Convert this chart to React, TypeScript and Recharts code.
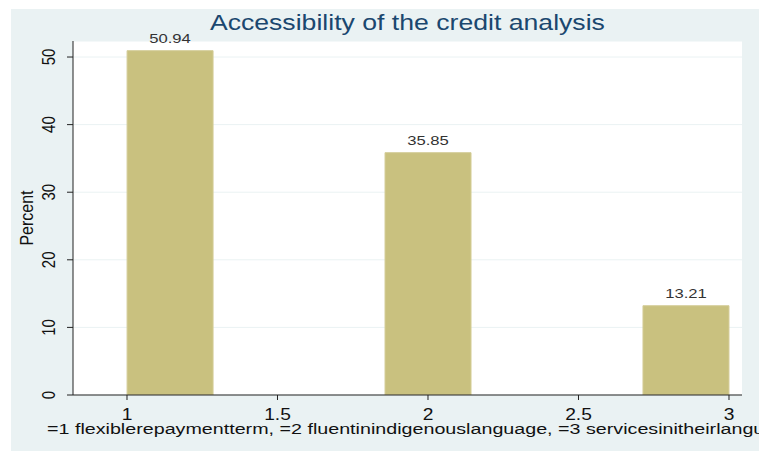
import { Bar, BarChart, CartesianGrid, LabelList, XAxis, YAxis } from 'recharts';

// histogram bins (mid points) and percent per bin
const binMids = [1.143, 2, 2.857];
const percents = [50.94, 35.85, 13.21];
const binWidth = 2 / 7;

const xTicks = [1, 1.5, 2, 2.5, 3];
const yTicks = [0, 10, 20, 30, 40, 50];

const title = 'Accessibility of the credit analysis';
const note = '=1 flexiblerepaymentterm, =2 fluentinindigenouslanguage, =3 servicesinitheirlanguage';

const chartData = binMids.map((mid, i) => ({ mid, pct: percents[i] }));

const W = 759;
const H = 451;
const margin = { top: 41, right: 17, bottom: 16, left: 11 };
const yAxisWidth = 62;
const xDomain: [number, number] = [0.8206, 3.0432];
const plotWidth = W - margin.left - margin.right - yAxisWidth;
const barPx = Math.round((binWidth / (xDomain[1] - xDomain[0])) * plotWidth);

// the reference graph is stretched sideways, so text is widened to match
const stretch = 1.2;
const font = 'Arial, "Liberation Sans", Helvetica, sans-serif';

const XTick = ({ x, payload }: any) => (
    <text
        transform={`translate(${x},420) scale(${stretch},1)`}
        textAnchor="middle"
        fontSize={16}
        fill="#111"
        fontFamily={font}
    >
        {payload.value}
    </text>
);

const YTick = ({ y, payload }: any) => (
    <text
        transform={`translate(55,${y}) scale(${stretch},1) rotate(-90)`}
        textAnchor="middle"
        fontSize={15}
        fill="#111"
        fontFamily={font}
    >
        {payload.value}
    </text>
);

const BarValue = ({ x, y, width, value }: any) => (
    <text
        transform={`translate(${x + width / 2},${y - 8}) scale(1.28,1)`}
        textAnchor="middle"
        fontSize={13}
        fill="#333"
        fontFamily={font}
    >
        {Number(value).toFixed(2)}
    </text>
);

const App = () => {
    return (
        <div
            style={{
                position: 'absolute',
                left: 0,
                top: 0,
                width: W,
                height: H,
                background: '#fff',
                overflow: 'hidden',
            }}
        >
            <div
                style={{
                    position: 'absolute',
                    left: 11,
                    top: 9,
                    width: W - 11,
                    height: H - 9,
                    background: '#eaf2f3',
                }}
            />
            <div
                style={{
                    position: 'absolute',
                    left: 73,
                    width: 669,
                    top: 9,
                    textAlign: 'center',
                    fontFamily: font,
                    fontSize: 22,
                    color: '#1a476f',
                    lineHeight: '28px',
                    transform: 'scaleX(1.21)',
                    transformOrigin: '335px 0',
                }}
            >
                {title}
            </div>
            <div
                style={{
                    position: 'absolute',
                    left: 47,
                    top: 421,
                    whiteSpace: 'nowrap',
                    fontFamily: font,
                    fontSize: 15.5,
                    color: '#111',
                    lineHeight: '16px',
                    transform: 'scaleX(1.27)',
                    transformOrigin: '0 0',
                }}
            >
                {note}
            </div>
            <div style={{ position: 'absolute', left: 0, top: 0 }}>
                <BarChart width={W} height={H} data={chartData} margin={margin}>
                    <CartesianGrid vertical={false} stroke="#eaf2f3" fill="#ffffff" />
                    <XAxis
                        type="number"
                        dataKey="mid"
                        domain={xDomain}
                        allowDataOverflow
                        ticks={xTicks}
                        tick={<XTick />}
                        tickSize={5}
                        tickLine={{ stroke: '#222' }}
                        axisLine={{ stroke: '#222' }}
                        height={40}
                    />
                    <YAxis
                        type="number"
                        domain={[0, 52.37]}
                        allowDataOverflow
                        ticks={yTicks}
                        tick={<YTick />}
                        tickSize={6}
                        tickLine={{ stroke: '#222' }}
                        axisLine={{ stroke: '#222' }}
                        width={yAxisWidth}
                        label={() => (
                            <text
                                transform={`translate(33,218) scale(${stretch},1) rotate(-90)`}
                                textAnchor="middle"
                                fontSize={16}
                                fill="#111"
                                fontFamily={font}
                            >
                                Percent
                            </text>
                        )}
                    />
                    <Bar
                        dataKey="pct"
                        fill="#c9c17f"
                        stroke="#d4cd98"
                        barSize={barPx}
                        isAnimationActive={false}
                    >
                        <LabelList dataKey="pct" content={<BarValue />} />
                    </Bar>
                </BarChart>
            </div>
        </div>
    );
};

export default App;
